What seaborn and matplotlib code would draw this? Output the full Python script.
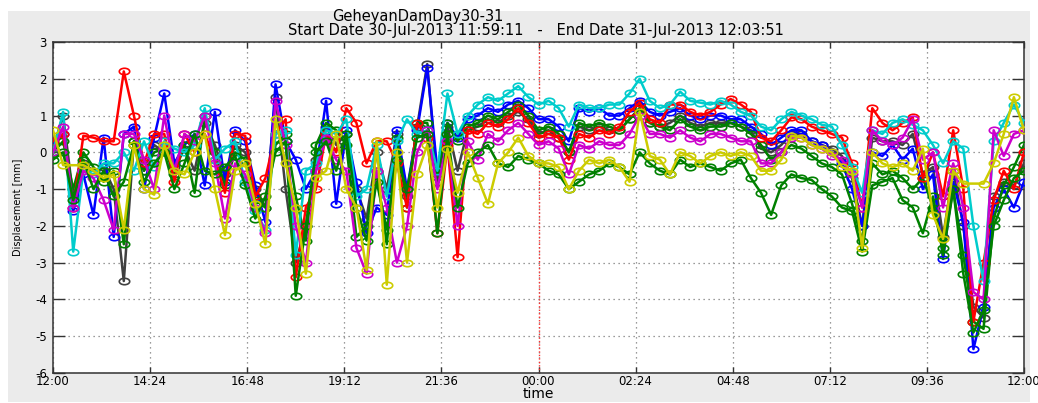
import numpy as np
import pandas as pd
import matplotlib
matplotlib.use("Agg")
import matplotlib.pyplot as plt
import matplotlib.dates as mdates
from matplotlib.path import Path
from matplotlib.transforms import Affine2D
from matplotlib.patches import Rectangle
import seaborn as sns

nan = np.nan

# Monitoring window: 15-minute samples from 30-Jul-2013 12:00 to 31-Jul-2013 12:00
start_time = "2013-07-30 12:00"
end_time = "2013-07-31 12:00"
midnight = "2013-07-31 00:00"

# Displacement [mm] per monitoring point (one row = 2 hours)
disp_k = [0.1, 1.0, -1.2, -0.3, -0.5, -0.4, -1.0, -3.5,
          0.3, -0.5, 0.2, 0.0, -0.4, 0.1, -0.5, 0.8,
          0.2, -0.6, 0.2, 0.0, -1.0, -1.5, 1.5, -1.0,
          -3.0, -2.0, -0.2, 0.7, 0.2, 0.5, -1.0, -1.8,
          0.0, -1.0, 0.5, -1.2, 0.7, 2.4, -0.8, 0.7,
          -0.5, 0.6, 0.7, 0.9, 0.8, 1.0, 1.1, 0.9,
          0.5, 0.6, 0.4, 0.0, 0.7, 0.6, 0.7, 0.6,
          0.6, 0.9, 1.2, 0.8, 0.7, 0.8, 1.0, 0.8,
          0.7, 0.8, 0.8, 0.8, 0.7, 0.6, 0.1, 0.0,
          0.2, 0.5, 0.5, 0.3, 0.2, 0.1, -0.1, -0.7,
          -2.0, 0.4, 0.3, 0.3, 0.2, 0.5, -0.6, -0.4,
          -2.3, -0.5, -2.0, -4.2, -4.5, -1.2, -0.8, -0.9,
          -0.3]

disp_b = [0.2, 0.5, -1.6, -0.6, -1.7, 0.4, -2.3, 0.5,
          0.7, -1.0, 0.4, 1.6, -0.3, 0.2, 0.5, -0.9,
          1.1, -0.8, 0.6, 0.3, -0.9, -1.9, 1.85, 0.3,
          -0.2, -1.0, -0.5, 1.4, -1.4, 0.6, -0.8, -2.2,
          -1.5, -1.7, 0.6, -1.0, 0.6, 2.3, -0.5, 0.8,
          0.4, 0.9, 1.0, 1.2, 1.1, 1.3, 1.4, 1.2,
          0.9, 0.9, 0.7, 0.3, 1.2, 1.1, 1.2, 1.0,
          1.0, 1.2, 1.4, 1.1, 1.0, 1.1, 1.2, 1.0,
          0.9, 1.0, 1.0, 0.9, 0.9, 0.7, 0.5, 0.2,
          0.4, 0.6, 0.6, 0.3, 0.2, 0.0, -0.3, -1.0,
          -2.0, 0.0, -0.1, 0.2, -0.2, 0.1, -1.0, -0.6,
          -2.9, -0.8, -1.9, -5.35, -4.2, -1.5, -1.0, -1.5,
          -0.8]

disp_g = [0.0, 0.3, -1.0, 0.0, -0.4, -0.8, -0.5, -2.5,
          0.3, -0.5, 0.0, 0.1, -0.6, 0.2, -1.1, 1.0,
          0.0, -0.9, 0.0, -0.2, -1.3, -1.5, 0.2, 0.5,
          -1.2, -2.4, 0.2, 0.8, 0.6, 0.2, -2.3, -2.0,
          -0.5, -2.5, 0.4, -1.5, 0.8, 0.8, -0.6, 0.8,
          0.3, 0.7, 0.8, 1.0, 0.9, 1.1, 1.3, 1.0,
          0.6, 0.7, 0.5, 0.0, 0.8, 0.7, 0.8, 0.7,
          0.6, 0.9, 1.2, 0.8, 0.7, 0.6, 0.9, 0.7,
          0.6, 0.7, 0.7, 0.8, 0.7, 0.5, 0.2, -0.2,
          0.0, 0.2, 0.1, -0.1, -0.3, -0.4, -0.6, -1.4,
          -2.4, -0.3, -0.6, -0.5, -0.7, -1.0, -0.7, -1.5,
          -2.6, -1.0, -2.8, -4.6, -4.8, -1.8, -0.9, -0.4,
          0.2]

disp_r = [0.3, 0.5, -1.5, 0.45, 0.4, 0.3, 0.3, 2.2,
          1.0, -0.3, 0.5, 0.5, -0.8, 0.5, 0.0, 0.5,
          -0.2, -1.1, 0.5, 0.45, -1.2, -0.7, 0.5, 0.9,
          -3.4, -1.5, -1.0, 0.5, 0.0, 1.2, 0.8, -0.3,
          0.3, 0.3, -0.3, -1.5, 0.8, 0.4, -2.2, 0.2,
          -2.85, 0.6, 0.5, 0.8, 0.7, 0.9, 1.2, 0.8,
          0.4, 0.5, 0.4, -0.2, 0.5, 0.4, 0.6, 0.5,
          0.7, 1.1, 1.35, 0.9, 0.8, 1.3, 1.3, 1.1,
          1.0, 1.1, 1.3, 1.45, 1.3, 1.1, 0.4, 0.3,
          0.6, 0.95, 0.9, 0.7, 0.6, 0.5, 0.4, -0.3,
          -1.5, 1.2, 0.8, 0.6, 0.8, 0.95, -0.7, 0.0,
          -1.2, 0.6, -1.0, -4.6, -3.0, -1.3, -0.5, -1.0,
          0.0]

disp_c = [0.0, 1.1, -2.7, -0.5, -0.6, -0.3, -0.3, 0.0,
          -0.5, 0.3, -0.4, 0.3, 0.1, 0.0, 0.2, 1.2,
          -0.2, 0.1, 0.3, -0.8, -1.6, -2.1, 0.5, 0.6,
          -2.8, -0.5, -0.3, 0.6, 0.5, 0.9, -1.2, -1.0,
          0.2, -1.2, 0.3, 0.9, 0.5, 0.6, -0.5, 1.6,
          0.5, 1.0, 1.3, 1.5, 1.4, 1.6, 1.8, 1.5,
          1.3, 1.4, 1.2, 0.7, 1.3, 1.2, 1.2, 1.3,
          1.3, 1.6, 2.0, 1.4, 1.2, 1.3, 1.65, 1.4,
          1.35, 1.3, 1.4, 1.3, 1.1, 1.0, 0.7, 0.6,
          0.9, 1.1, 1.0, 0.9, 0.75, 0.7, 0.2, -0.4,
          -1.1, 0.6, 0.5, 0.8, 0.9, 0.75, 0.6, 0.2,
          -0.3, 0.3, 0.1, -2.0, -3.5, 0.3, 0.8, 1.3,
          0.8]

disp_m = [0.0, 0.7, -1.5, -0.5, -0.7, -1.3, -2.1, 0.5,
          0.5, -0.2, -1.0, 1.0, -0.5, 0.5, 0.3, 1.0,
          -0.3, -1.8, -0.3, -0.6, -1.5, -2.2, 1.4, 0.2,
          -2.0, -3.0, -0.5, 0.4, -0.2, -0.5, -2.6, -3.3,
          -0.5, -1.5, -3.0, -2.0, 0.0, 0.6, -1.0, 0.3,
          -2.0, 0.3, -0.2, 0.5, 0.3, 0.6, 0.8, 0.5,
          0.2, 0.3, 0.1, -0.6, 0.2, 0.1, 0.3, 0.2,
          0.2, 0.5, 1.0, 0.5, 0.5, 0.4, 0.6, 0.4,
          0.3, 0.5, 0.5, 0.4, 0.3, 0.3, -0.3, -0.3,
          0.0, 0.4, 0.4, 0.2, 0.1, -0.1, -0.2, -0.6,
          -1.5, 0.6, 0.3, 0.2, 0.4, 0.9, -0.2, 0.0,
          -1.5, -0.3, -1.5, -3.8, -4.0, 0.6, -0.1, 0.5,
          0.6]

disp_g2 = [-0.2, 0.0, -1.3, -0.2, -1.0, -0.5, -1.2, -0.8,
           0.2, -0.8, -0.3, 0.0, -1.0, -0.3, 0.5, -0.5,
           -0.6, -0.4, -0.1, -0.9, -1.8, -1.2, 0.0, 0.3,
           -3.9, -2.0, 0.0, 0.3, -0.5, 0.5, -1.5, -2.4,
           -0.8, -2.1, -0.2, -1.0, 0.4, 0.5, -2.2, 0.5,
           -1.5, -0.3, 0.0, 0.2, -0.3, -0.4, -0.1, -0.2,
           -0.3, -0.5, -0.6, -1.0, -0.8, -0.6, -0.5, -0.3,
           -0.4, -0.6, 0.0, -0.3, -0.5, -0.6, -0.2, -0.4,
           -0.3, -0.4, -0.5, -0.3, -0.2, -0.7, -1.1, -1.7,
           -0.9, -0.6, -0.7, -0.75, -1.0, -1.2, -1.5, -1.6,
           -2.7, -0.9, -0.8, -0.7, -1.3, -1.5, -2.2, -1.2,
           -2.8, -1.0, -3.3, -4.9, -4.3, -2.0, -1.3, -0.7,
           -0.5]

# gaps (nan) are bridged by a straight segment
disp_y = [0.6, -0.35, nan, -0.35, -0.5, -0.7, -0.6, -2.1,
          0.2, -1.0, -1.15, 0.2, -0.5, -0.6, 0.0, 0.5,
          -1.0, -2.25, -0.5, -0.3, -1.4, -2.5, 0.9, -0.3,
          -1.5, -3.3, -0.7, -0.5, 0.5, -1.0, -1.5, -3.2,
          0.3, -3.6, 0.0, -3.0, -0.6, 0.2, -1.5, 0.1,
          -1.1, 0.0, -0.7, -1.4, -0.3, 0.0, 0.4, -0.1,
          -0.3, -0.3, -0.4, -1.0, -0.5, -0.2, -0.3, -0.2,
          -0.4, -0.8, 1.1, -0.1, -0.2, -0.6, 0.0, -0.1,
          -0.3, -0.1, 0.0, -0.1, 0.0, -0.1, -0.5, -0.5,
          -0.2, 0.45, 0.4, 0.2, 0.1, 0.0, -0.4, -0.5,
          -2.6, 0.0, -0.3, -0.4, -0.3, -0.5, 0.1, -1.7,
          -2.35, -0.5, -0.85, nan, -0.85, -0.3, 0.5, 1.5,
          0.6]

# drawing order (later on top) and line colours
series = [
    (disp_k, "#404040"),
    (disp_b, "#0000ff"),
    (disp_g, "#008000"),
    (disp_r, "#ff0000"),
    (disp_c, "#00cccc"),
    (disp_m, "#cc00cc"),
    (disp_g2, "#008000"),
    (disp_y, "#cccc00"),
]

x_tick_labels = ["12:00", "14:24", "16:48", "19:12", "21:36", "00:00",
                 "02:24", "04:48", "07:12", "09:36", "12:00"]
y_ticks = [3, 2, 1, 0, -1, -2, -3, -4, -5, -6]
title_line1 = "GeheyanDamDay30-31"
title_line2 = "Start Date 30-Jul-2013 11:59:11   -   End Date 31-Jul-2013 12:03:51"
x_label = "time"
y_label = "Displacement [mm]"

times = pd.date_range(start_time, end_time, freq="15min")
for vals, _ in series:
    assert len(vals) == len(times)

W, H = 1038, 403
fig = plt.figure(figsize=(W / 100, H / 100), dpi=100)
fig.patch.set_facecolor("white")
fig.patches.append(Rectangle((8 / W, 1 - 402 / H), 1022 / W, 391 / H,
                             transform=fig.transFigure, facecolor="#ebebeb",
                             edgecolor="none", zorder=-10))

ax = fig.add_axes([53 / W, 1 - 373 / H, 971 / W, 331 / H])
ax.set_facecolor("white")

# open elliptical ring marker
ring = Path.unit_circle().transformed(Affine2D().scale(1.0, 0.62))

for vals, col in series:
    df = pd.DataFrame({"time": times, "disp": vals})
    sns.lineplot(data=df, x="time", y="disp", ax=ax, color=col, lw=1.8,
                 marker=ring, markersize=7.5, markerfacecolor="none",
                 markeredgecolor=col, markeredgewidth=1.2, zorder=3)

ax.axvline(pd.Timestamp(midnight), color="#ff3030", ls=(0, (1, 1.5)),
           lw=1.0, zorder=2)

ax.set_xlim(pd.Timestamp(start_time), pd.Timestamp(end_time))
ax.set_ylim(-6, 3)
tick_times = pd.date_range(start_time, end_time, periods=len(x_tick_labels))
ax.set_xticks(tick_times)
ax.set_xticklabels(x_tick_labels)
ax.set_yticks(y_ticks)
ax.set_yticklabels([str(v) for v in y_ticks])

ax.grid(True, color="#7a7a7a", ls=(0, (1, 3)), lw=0.9, zorder=1)
ax.set_axisbelow(True)

ax.tick_params(axis="both", direction="in", top=True, right=True,
               labelsize=8.5, width=1.0, color="#333333")
ax.tick_params(axis="x", length=4.3, pad=1.5)
ax.tick_params(axis="y", length=8.6, pad=4.3)
for s in ax.spines.values():
    s.set_color("#333333")
    s.set_linewidth(1.1)

ax.set_xlabel(x_label, fontsize=10)
ax.xaxis.set_label_coords(0.5, -0.042)
ax.set_ylabel(y_label, fontsize=7)
ax.yaxis.set_label_coords(-0.031, 0.5)

fig.text(418 / W, 1 - 17 / H, title_line1, ha="center", va="center", fontsize=10.5)
fig.text(536 / W, 1 - 31 / H, title_line2, ha="center", va="center", fontsize=10.5)

fig.savefig("out.png", dpi=100, facecolor=fig.get_facecolor())
